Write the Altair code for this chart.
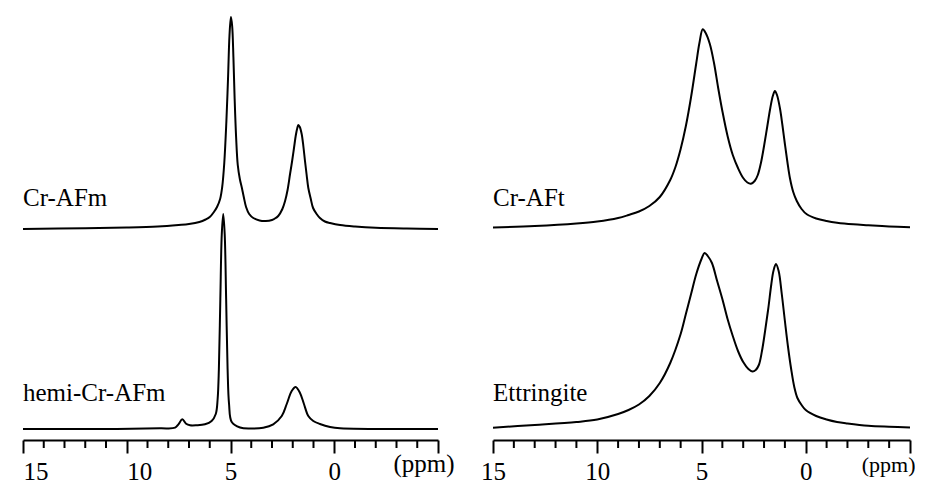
import altair as alt
import pandas as pd

# ---------------- data ----------------
# Left panel, upper trace (Cr-AFm)
cr_afm_ppm = [15.0, 12.0, 10.0, 8.5, 7.5, 7.0, 6.5, 6.2, 6.0, 5.8, 5.65, 5.5, 5.4, 5.3, 5.2, 5.12,
              5.05, 4.98, 4.92, 4.86, 4.8, 4.73, 4.65, 4.55, 4.45, 4.36, 4.25, 4.1, 3.9, 3.6, 3.3,
              3.0, 2.9, 2.7, 2.5, 2.37, 2.25, 2.13, 2.03, 1.94, 1.85, 1.78, 1.73, 1.66, 1.57, 1.49,
              1.41, 1.33, 1.25, 1.13, 1.02, 0.85, 0.69, 0.45, 0.2, -0.28, -1.0, -2.0, -3.5, -5.0]
cr_afm_int = [0, 0.8, 1.5, 2.5, 4, 5, 7, 9.5, 12, 17, 22, 30, 42, 66, 107, 150,
              193, 212, 203, 172, 130, 92, 64, 50, 41, 32, 22, 15, 11, 8.5, 8,
              9, 10, 13, 20, 28, 39, 55, 68, 81, 94, 101, 104, 102, 95, 83,
              68, 54, 41, 30, 21, 15, 11, 7.5, 6, 4, 2.5, 1.2, 0.4, 0]

# Left panel, lower trace (hemi-Cr-AFm)
hemi_ppm = [15.0, 11.3, 8.4, 7.67, 7.51, 7.32, 7.14, 6.95, 6.63, 6.23, 5.91, 5.71, 5.62, 5.56,
            5.49, 5.42, 5.35, 5.28, 5.21, 5.14, 5.07, 4.94, 4.54, 4.06, 3.42, 2.94, 2.53, 2.29,
            2.05, 1.86, 1.65, 1.46, 1.25, 1.01, 0.69, 0.20, -0.28, -5.0]
hemi_int = [0, 0, 0.7, 1.3, 4.7, 9.7, 5.3, 3.7, 3.7, 4.7, 8, 15, 30, 60,
            130, 195, 215, 195, 130, 60, 25, 7, 1.5, 0.5, 1.3, 4.7, 13, 25,
            38, 42, 36, 25, 13, 8, 5, 2, 0.7, 0]

# Right panel, upper trace (Cr-AFt)
cr_aft_ppm = [15.0, 13.0, 11.0, 10.0, 9.0, 8.5, 8.0, 7.5, 7.0, 6.5, 6.25, 6.0, 5.75, 5.5, 5.25,
              5.1, 4.94, 4.8, 4.6, 4.4, 4.2, 4.0, 3.75, 3.5, 3.25, 3.0, 2.8, 2.63, 2.45, 2.3,
              2.15, 2.0, 1.85, 1.7, 1.58, 1.48, 1.38, 1.24, 1.12, 1.0, 0.88, 0.76, 0.6, 0.43,
              0.2, -0.05, -0.5, -1.0, -1.5, -2.28, -3.0, -4.0, -5.0]
cr_aft_int = [1.5, 3, 5.5, 7.5, 11, 14, 17.5, 23, 32, 49, 62, 80, 103, 132, 166,
              186, 199.7, 196, 185, 166, 141, 118, 93, 74, 61, 51, 46.5, 45.3, 48, 54,
              66, 83, 102, 121, 133, 138, 134, 121, 104, 85, 67, 51, 37, 28,
              20, 14.7, 10.5, 8, 6.3, 4.7, 3.8, 2.6, 1.7]

# Right panel, lower trace (Ettringite)
ettr_ppm = [15.0, 13.0, 11.0, 10.0, 9.0, 8.5, 8.0, 7.5, 7.0, 6.5, 6.0, 5.75, 5.5, 5.25, 5.0,
            4.85, 4.7, 4.5, 4.25, 4.0, 3.75, 3.5, 3.25, 3.0, 2.75, 2.55, 2.4, 2.25, 2.1, 1.95,
            1.8, 1.65, 1.55, 1.43, 1.3, 1.15, 1.0, 0.85, 0.7, 0.55, 0.4, 0.2, 0.0, -0.5, -1.0,
            -1.5, -2.0, -3.0, -4.0, -5.0]
ettr_int = [1.3, 4, 7, 9.5, 15, 19, 24.5, 33, 46, 66, 95, 115, 135, 155, 170,
            176, 173, 166, 148, 130, 110, 93, 78, 67, 60, 57.5, 59, 64, 78, 98,
            120, 145, 158, 165, 158, 135, 108, 82, 60, 42, 31, 24, 19, 13, 9.5,
            7, 5.5, 3.2, 2.2, 1.5]

names_left = ["Cr-AFm", "hemi-Cr-AFm"]
names_right = ["Cr-AFt", "Ettringite"]

major_ticks = [15, 10, 5, 0, -5]
minor_ticks = [14, 13, 12, 11, 9, 8, 7, 6, 4, 3, 2, 1, -1, -2, -3, -4]

# ---------------- layout / style constants ----------------
FONT = "Liberation Serif"
H = 430
OFFSET_TOP = 211      # vertical stacking offsets of the traces
OFFSET_BOTTOM = 11
LABEL_UP_TOP = 23
LABEL_UP_BOTTOM = 28


def spectrum(name, ppm, inten, offset):
    return pd.DataFrame({"ppm": ppm, "y": [v + offset for v in inten], "name": name})


def panel(top, bottom, width, title_x, title_size, left_align_two_digit):
    lines = pd.concat([spectrum(*top, OFFSET_TOP), spectrum(*bottom, OFFSET_BOTTOM)])
    labels = pd.DataFrame({
        "ppm": [15, 15],
        "y": [OFFSET_TOP + LABEL_UP_TOP, OFFSET_BOTTOM + LABEL_UP_BOTTOM],
        "text": [top[0], bottom[0]],
    })
    minors = pd.DataFrame({"ppm": minor_ticks})

    if left_align_two_digit:
        label_align = {"condition": {"test": "datum.value >= 10", "value": "left"}, "value": "center"}
    else:
        label_align = "center"

    xenc = alt.X(
        "ppm:Q",
        scale=alt.Scale(domain=[-5, 15], reverse=True, nice=False, zero=False),
        axis=alt.Axis(
            values=major_ticks,
            labelExpr="datum.value == -5 ? '' : datum.label",
            grid=False,
            domainColor="black", domainWidth=2,
            tickColor="black", tickWidth=2, tickSize=13,
            labelFont=FONT, labelFontSize=25, labelColor="black",
            labelBaseline="alphabetic", labelPadding=26,
            labelAlign=label_align,
            labelFlush=False, labelOverlap=False,
            title="(ppm)", titleFont=FONT, titleFontSize=title_size,
            titleFontWeight="normal", titleColor="black",
            titleX=title_x, titleY=31, titleAlign="right", titleBaseline="alphabetic",
        ),
    )
    yscale = alt.Scale(domain=[0, H], nice=False, zero=False)

    line = alt.Chart(lines).mark_line(
        color="black", strokeWidth=2, interpolate="catmull-rom"
    ).encode(x=xenc, y=alt.Y("y:Q", scale=yscale, axis=None), detail="name:N")

    text = alt.Chart(labels).mark_text(
        align="left", baseline="alphabetic", font=FONT, fontSize=25, color="black"
    ).encode(x=xenc, y=alt.Y("y:Q", scale=yscale, axis=None), text="text:N")

    minor = alt.Chart(minors).mark_rule(color="black", strokeWidth=2).encode(
        x=xenc, y=alt.value(H), y2=alt.value(H + 8)
    )

    return alt.layer(line, text, minor).properties(width=width, height=H)


left = panel((names_left[0], cr_afm_ppm, cr_afm_int), (names_left[1], hemi_ppm, hemi_int),
             415, 431, 25, True)
right = panel((names_right[0], cr_aft_ppm, cr_aft_int), (names_right[1], ettr_ppm, ettr_int),
              417, 422, 22, False)

chart = alt.hconcat(left, right, spacing=55, bounds="flush").properties(
    padding={"left": 11, "top": 2, "right": 0, "bottom": 40},
    background="white",
).configure_view(stroke=None)

chart.save("out.html", embed_options={"renderer": "svg", "actions": False})
